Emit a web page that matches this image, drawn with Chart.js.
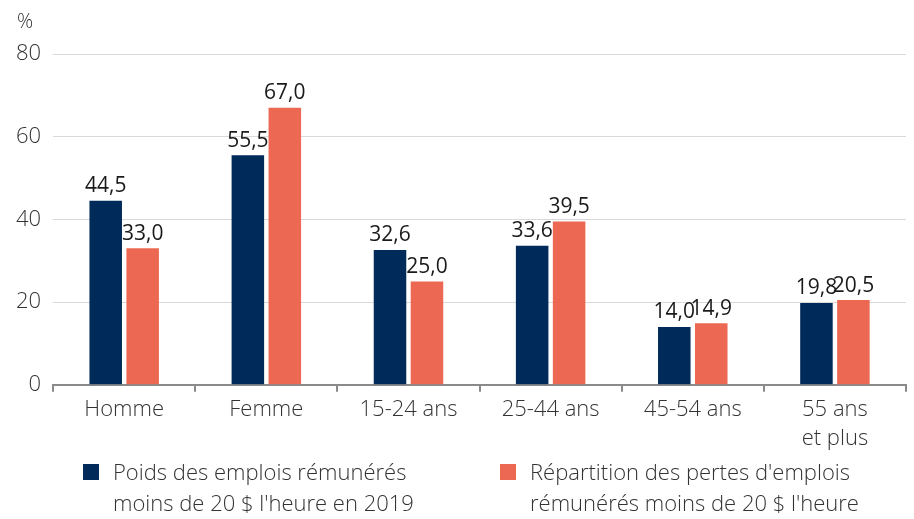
<!DOCTYPE html>
<html>
<head>
<meta charset="utf-8">
<script src="https://cdn.jsdelivr.net/npm/chart.js@4/dist/chart.umd.min.js"></script>
<style>
  body { margin: 0; background: #fff; }
  #wrap { position: relative; width: 914px; height: 519px; }
  #legend { position: absolute; top: 456px; left: 0; width: 914px; font-family: "Open Sans", sans-serif; font-weight: 300; font-size: 22px; color: #333; line-height: 31px; }
  .item { position: absolute; top: 0; }
  .box { position: absolute; left: 0; top: 8px; width: 16px; height: 16px; }
  .txt { position: absolute; left: 30px; top: 0; white-space: nowrap; }
</style>
</head>
<body>
<div id="wrap">
  <canvas id="chart" width="914" height="519"></canvas>
  <div id="legend"></div>
</div>
<script>
const categories = ["Homme", "Femme", "15-24 ans", "25-44 ans", "45-54 ans", ["55 ans", "et plus"]];
const poidsEmplois = [44.5, 55.5, 32.6, 33.6, 14.0, 19.8];
const repartitionPertes = [33.0, 67.0, 25.0, 39.5, 14.9, 20.5];
const seriesLabels = [
  ["Poids des emplois rémunérés", "moins de 20 $ l'heure en 2019"],
  ["Répartition des pertes d'emplois", "rémunérés moins de 20 $ l'heure"]
];
const seriesColors = ["#002a5a", "#ec6853"];
const yTicks = [0, 20, 40, 60, 80];

const font = "'Open Sans', sans-serif";

// valeurs au-dessus des barres + "%" en haut de l'axe
const labelsPlugin = {
  id: "labels",
  afterDatasetsDraw(chart) {
    const ctx = chart.ctx;
    ctx.save();
    ctx.font = "21px " + font;
    ctx.fillStyle = "#1a1a1a";
    ctx.textAlign = "center";
    ctx.textBaseline = "bottom";
    chart.data.datasets.forEach((ds, i) => {
      chart.getDatasetMeta(i).data.forEach((bar, j) => {
        ctx.fillText(ds.data[j].toFixed(1).replace(".", ","), bar.x, bar.y - 4);
      });
    });
    ctx.font = "300 20px " + font;
    ctx.fillStyle = "#333";
    ctx.textAlign = "left";
    ctx.textBaseline = "middle";
    ctx.fillText("%", 17, 22);
    ctx.restore();
  }
};

new Chart(document.getElementById("chart"), {
  type: "bar",
  data: {
    labels: categories,
    datasets: [
      { label: seriesLabels[0].join(" "), data: poidsEmplois, backgroundColor: seriesColors[0] },
      { label: seriesLabels[1].join(" "), data: repartitionPertes, backgroundColor: seriesColors[1] }
    ]
  },
  options: {
    responsive: false,
    animation: false,
    categoryPercentage: 0.52,
    barPercentage: 0.88,
    layout: { padding: { top: 54, left: 4, right: 8, bottom: 62 } },
    plugins: { legend: { display: false }, tooltip: { enabled: false } },
    scales: {
      x: {
        grid: { offset: true, drawOnChartArea: false, tickLength: 7, color: "#8a8a8a", lineWidth: 2 },
        border: { color: "#8a8a8a", width: 2 },
        ticks: { color: "#333", font: { family: font, size: 22, weight: 300, lineHeight: 1.3 }, padding: 4, maxRotation: 0 }
      },
      y: {
        min: 0,
        max: 80,
        afterBuildTicks: (axis) => { axis.ticks = yTicks.map(v => ({ value: v })); },
        grid: { color: (c) => c.tick.value === 0 ? "rgba(0,0,0,0)" : "#d9d9d9", drawTicks: false },
        border: { display: false },
        ticks: { color: "#333", font: { family: font, size: 22, weight: 300 }, padding: 12 }
      }
    }
  },
  plugins: [labelsPlugin]
});

// légende HTML sur deux lignes
const legend = document.getElementById("legend");
const legendX = [83, 500];
seriesLabels.forEach((lines, i) => {
  const item = document.createElement("div");
  item.className = "item";
  item.style.left = legendX[i] + "px";
  item.innerHTML = '<div class="box" style="background:' + seriesColors[i] + '"></div><div class="txt">' + lines.join("<br>") + "</div>";
  legend.appendChild(item);
});
</script>
</body>
</html>
